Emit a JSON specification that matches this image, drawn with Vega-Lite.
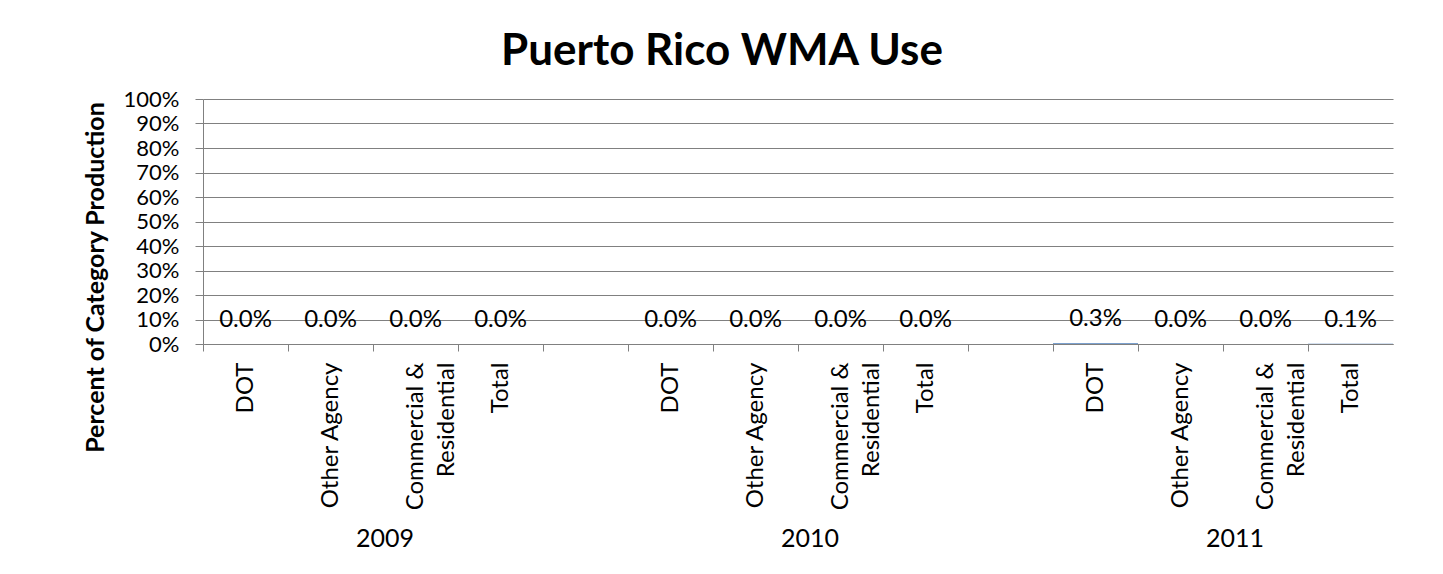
{
  "$schema": "https://vega.github.io/schema/vega-lite/v6.json",
  "width": 1190,
  "height": 245,
  "autosize": "none",
  "padding": {"left": 203, "top": 99, "right": 50, "bottom": 230},
  "background": "white",
  "title": {
    "text": "Puerto Rico WMA Use",
    "font": "Lato",
    "fontSize": 44,
    "fontWeight": "bold",
    "color": "black",
    "anchor": "middle",
    "offset": 14,
    "dx": -76
  },
  "config": {
    "view": {"stroke": null}
  },
  "data": {
    "values": [
      {"key": "2009|DOT", "year": "2009", "category": "DOT", "value": 0, "label": "0.0%"},
      {"key": "2009|Other Agency", "year": "2009", "category": "Other Agency", "value": 0, "label": "0.0%"},
      {"key": "2009|Commercial & Residential", "year": "2009", "category": "Commercial & Residential", "value": 0, "label": "0.0%"},
      {"key": "2009|Total", "year": "2009", "category": "Total", "value": 0, "label": "0.0%"},
      {"key": "2010|DOT", "year": "2010", "category": "DOT", "value": 0, "label": "0.0%"},
      {"key": "2010|Other Agency", "year": "2010", "category": "Other Agency", "value": 0, "label": "0.0%"},
      {"key": "2010|Commercial & Residential", "year": "2010", "category": "Commercial & Residential", "value": 0, "label": "0.0%"},
      {"key": "2010|Total", "year": "2010", "category": "Total", "value": 0, "label": "0.0%"},
      {"key": "2011|DOT", "year": "2011", "category": "DOT", "value": 0.003, "label": "0.3%"},
      {"key": "2011|Other Agency", "year": "2011", "category": "Other Agency", "value": 0, "label": "0.0%"},
      {"key": "2011|Commercial & Residential", "year": "2011", "category": "Commercial & Residential", "value": 0, "label": "0.0%"},
      {"key": "2011|Total", "year": "2011", "category": "Total", "value": 0.001, "label": "0.1%"}
    ]
  },
  "layer": [
    {
      "mark": {"type": "bar", "color": "#4F81BD"},
      "encoding": {
        "x": {
          "field": "key",
          "type": "nominal",
          "sort": null,
          "scale": {
            "type": "band",
            "paddingInner": 0,
            "paddingOuter": 0,
            "domain": [
              "2009|DOT", "2009|Other Agency", "2009|Commercial & Residential", "2009|Total", "gap1",
              "2010|DOT", "2010|Other Agency", "2010|Commercial & Residential", "2010|Total", "gap2",
              "2011|DOT", "2011|Other Agency", "2011|Commercial & Residential", "2011|Total"
            ]
          },
          "axis": {
            "title": null,
            "grid": false,
            "zindex": 1,
            "domainColor": "#808080",
            "tickColor": "#808080",
            "tickSize": 7,
            "tickOffset": -42.5,
            "labelOffset": 42.5,
            "labelAngle": -90,
            "labelAlign": "right",
            "labelBaseline": "middle",
            "labelPadding": 11,
            "labelFont": "Lato",
            "labelFontSize": 24,
            "labelColor": "black",
            "labelLineHeight": 31,
            "labelExpr": "indexof(datum.value, 'Commercial') >= 0 ? ['Commercial &', 'Residential'] : (indexof(datum.value, '|') >= 0 ? split(datum.value, '|')[1] : '')"
          }
        },
        "y": {
          "field": "value",
          "type": "quantitative",
          "scale": {"domain": [0, 1], "nice": false},
          "axis": {
            "title": "Percent of Category Production",
            "titleFont": "Lato",
            "titleFontSize": 25,
            "titleFontWeight": "bold",
            "titleColor": "black",
            "titleX": -108,
            "titleY": 178,
            "titleAngle": -90,
            "titleAlign": "center",
            "titleBaseline": "middle",
            "tickCount": 10,
            "format": "%",
            "grid": true,
            "gridColor": "#808080",
            "domainColor": "#808080",
            "tickColor": "#808080",
            "tickSize": 8,
            "labelPadding": 16,
            "labelFont": "Lato",
            "labelFontSize": 22,
            "labelColor": "black"
          }
        }
      }
    },
    {
      "mark": {"type": "text", "font": "Lato", "fontSize": 24, "color": "black", "align": "center", "baseline": "middle", "dy": -24},
      "encoding": {
        "x": {"field": "key", "type": "nominal", "sort": null},
        "y": {"field": "value", "type": "quantitative"},
        "text": {"field": "label", "type": "nominal"}
      }
    },
    {
      "transform": [{"filter": "datum.category === 'Commercial & Residential'"}],
      "mark": {"type": "text", "font": "Lato", "fontSize": 25, "color": "black", "align": "center", "baseline": "alphabetic", "dy": 203, "dx": 12},
      "encoding": {
        "x": {"field": "key", "type": "nominal", "sort": null, "bandPosition": 0},
        "y": {"field": "value", "type": "quantitative"},
        "text": {"field": "year", "type": "nominal"}
      }
    }
  ]
}
